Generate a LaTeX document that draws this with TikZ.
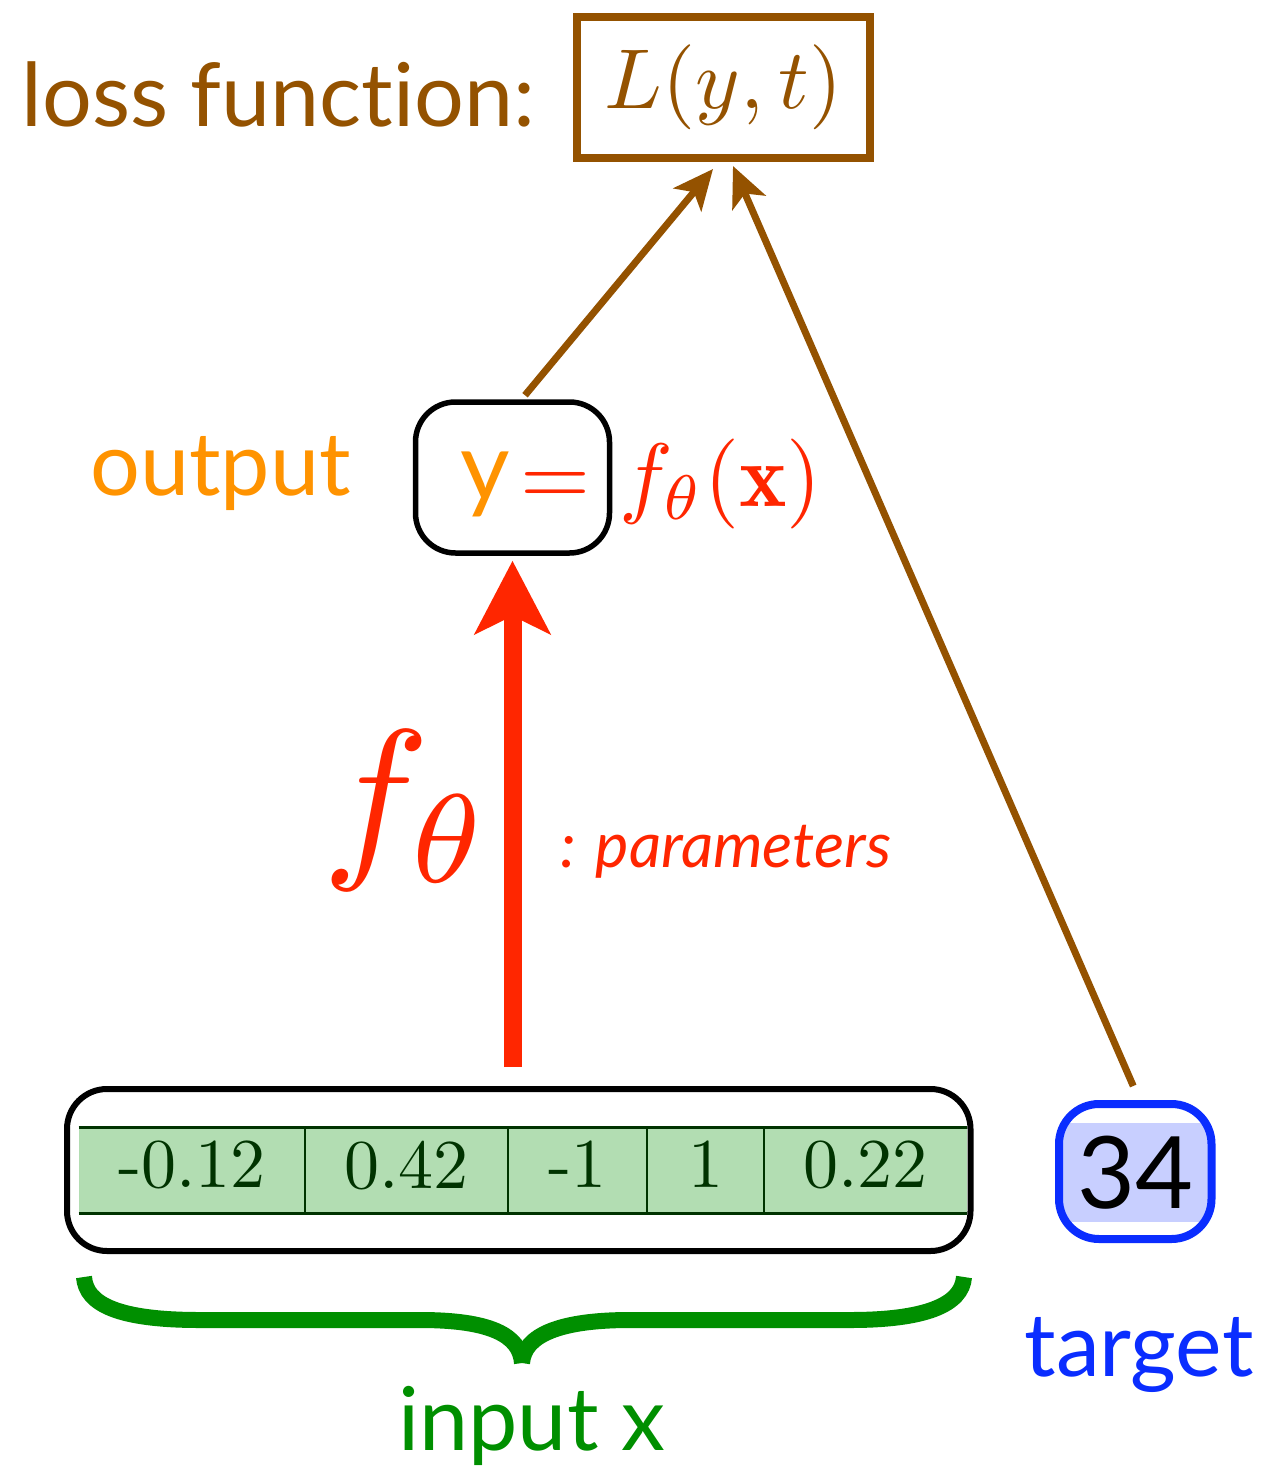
\documentclass[tikz,border=0pt]{standalone}
\usepackage{fontspec}
\newfontfamily\lato[Ligatures=NoCommon]{Lato}
\usetikzlibrary{arrows.meta,calc}
\definecolor{brn}{RGB}{148,82,0}
\definecolor{org}{RGB}{255,147,0}
\definecolor{rd}{RGB}{255,38,0}
\definecolor{grn}{RGB}{0,143,0}
\definecolor{dgrn}{RGB}{0,51,0}
\definecolor{lgrn}{RGB}{178,221,178}
\definecolor{blu}{RGB}{10,45,255}
\definecolor{lblu}{RGB}{200,207,255}
\newcommand{\cellnum}[1]{\scalebox{3.5}{#1}}
\begin{document}
\begin{tikzpicture}[x=0.5pt,y=-0.5pt,
  sanslab/.style={inner sep=0, anchor=base west, font=\lato\fontsize{44}{48}\selectfont},
  rbox/.style={draw, inner sep=0, rounded corners=20pt},
  cell/.style={fill=lgrn, inner sep=0, minimum height=42.5pt, text depth=6pt, text=dgrn},
  brnarrow/.style={draw=brn, line width=3.5pt, -{Stealth[length=20pt,width=18pt,inset=5pt]}},
  redarrow/.style={draw=rd, line width=9pt, -{Stealth[length=36.5pt,width=37.5pt,inset=9pt]}},
  bracestyle/.style={draw=grn, line width=8pt, line cap=butt}
]
\useasboundingbox (0,0) rectangle (1286,1467);

% loss box
\node[draw=brn, line width=4pt, minimum width=146.5pt, minimum height=70.5pt, inner sep=0,
      text=brn] (loss) at (723.5,87) {\scalebox{4.25}{$L(y,t)$}};
\node[sanslab, text=brn] (lflab) at (21,126) {loss function:};

% output
\node[rbox, line width=2.75pt, minimum width=97pt, minimum height=75.5pt] (out) at (512.5,477.5) {};
\node[sanslab, text=org] (outlab) at (90,495) {output};
\node[text=org, inner sep=0, anchor=base, font=\lato\fontsize{48}{52}\selectfont] (ysym) at (485.5,500) {y};
\node[text=rd, inner sep=0, anchor=base] (eqs) at (555,505) {\scalebox{4.5}{$=$}};
\node[text=rd, inner sep=0, anchor=base west] (fx) at (619,506) {\scalebox{4.5}{$f_\theta(\mathbf{x})$}};

% f theta and parameters
\node[text=rd, inner sep=0, anchor=base west] (fbig) at (322,855) {\scalebox{9}{$f_\theta$}};
\node[text=rd, inner sep=0, anchor=base west, font=\lato\itshape\fontsize{31.5}{36}\selectfont] (par) at (560,867) {: parameters};

% input box and table
\node[rbox, line width=3pt, minimum width=451.75pt, minimum height=81pt] (inbox) at (518.75,1170) {};
\node[cell, minimum width=113pt] (c1) at (192,1170.5) {\cellnum{-0.12}};
\node[cell, minimum width=101.5pt] (c2) at (406.5,1170.5) {\cellnum{0.42}};
\node[cell, minimum width=69.5pt] (c3) at (577.5,1170.5) {\cellnum{-1}};
\node[cell, minimum width=58.5pt] (c4) at (705.5,1170.5) {\cellnum{1}};
\node[cell, minimum width=101.5pt] (c5) at (865.5,1170.5) {\cellnum{0.22}};
\draw[dgrn, line width=1.3pt] (c1.north west) -- (c5.north east);
\draw[dgrn, line width=1.3pt] (c1.south west) -- (c5.south east);
\foreach \c in {c1,c2,c3,c4}{\draw[dgrn, line width=1pt] (\c.north east) -- (\c.south east);}

% target
\node[fill=lblu, inner sep=0, minimum width=73pt, minimum height=49.5pt, font=\lato\fontsize{50}{56}\selectfont] (num) at (1135,1172.5) {34};
\node[rbox, draw=blu, line width=4pt, minimum width=76.25pt, minimum height=67.5pt] (tbox) at (1135.25,1171.5) {};
\node[sanslab, text=blu] (tlab) at (1024,1376) {target};

% brace
\draw[bracestyle] (84,1277) .. controls (86,1305) and (120,1320) .. (200,1320) -- (420,1320) .. controls (490,1320) and (520,1335) .. (522,1363);
\draw[bracestyle] (522,1363) .. controls (524,1335) and (560,1320) .. (630,1320) -- (850,1320) .. controls (925,1320) and (962,1305) .. (964,1277);
\node[sanslab, text=grn] (inlab) at (398,1450) {input x};

% arrows
\draw[redarrow, shorten <=9.5pt, shorten >=2.5pt] (out.south |- inbox.north) -- (out.south);
\draw[brnarrow] ($(out.north)+(12.5,-4)$) -- ($(loss.south)+(-10.5,7.5)$);
\draw[brnarrow] ($(tbox.north)+(-2,-14)$) -- ($(loss.south)+(9.5,4.5)$);
\end{tikzpicture}
\end{document}
